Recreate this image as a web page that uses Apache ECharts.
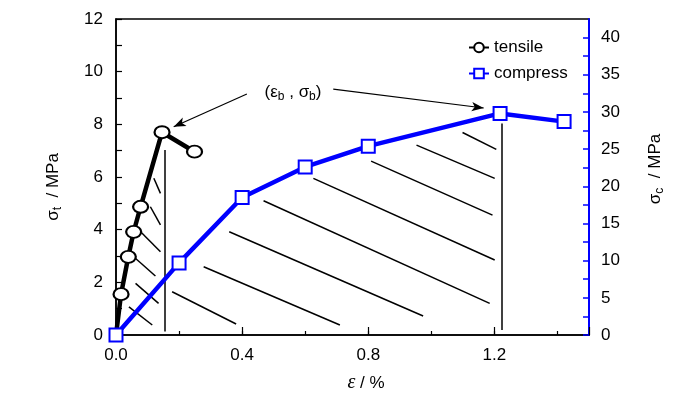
<!DOCTYPE html>
<html>
<head>
<meta charset="utf-8">
<script src="https://cdn.jsdelivr.net/npm/echarts@6/dist/echarts.min.js"></script>
<style>
  html, body { margin: 0; padding: 0; background: #fff; }
  #main { width: 700px; height: 398px; }
</style>
</head>
<body>
<div id="main"></div>
<script>
// 拉伸 / 压缩 应力-应变曲线
const FONT = '"Liberation Sans", Arial, sans-serif';

// tensile (left axis, MPa)
const strainT = [0, 0.016, 0.039, 0.056, 0.078, 0.146, 0.249];
const stressT = [0, 1.55, 2.97, 3.92, 4.87, 7.70, 6.96];
// compress (right axis, MPa)
const strainC = [0, 0.2, 0.4, 0.6, 0.8, 1.218, 1.421];
const stressC = [0, 9.7, 18.5, 22.6, 25.4, 29.8, 28.7];

// hatch segments under tensile curve [x1, y1, x2, y2] (left axis units)
const hatchT = [
    [0.120, 5.95, 0.141, 5.38],
    [0.109, 4.87, 0.141, 4.18],
    [0.078, 3.92, 0.141, 3.16],
    [0.056, 2.97, 0.125, 2.24],
    [0.062, 1.96, 0.135, 1.20],
    [0.041, 1.07, 0.115, 0.38],
    [0.154, 0.13, 0.154, 7.03]   // vertical drop at tensile peak
];
// hatch segments under compress curve (right axis units)
const hatchC = [
    [0.178, 5.82, 0.381, 1.48],
    [0.278, 9.18, 0.710, 1.34],
    [0.359, 13.88, 0.974, 2.55],
    [0.468, 18.05, 1.185, 4.26],
    [0.626, 21.06, 1.201, 10.08],
    [0.809, 23.39, 1.194, 16.13],
    [0.953, 25.54, 1.201, 21.06],
    [1.099, 27.24, 1.206, 24.96],
    [1.222, 0.67, 1.222, 28.45]  // vertical drop at compress peak
];
// annotation arrows [fromX, fromY, toX, toY] (left axis units)
const arrows = [
    [0.415, 9.15, 0.183, 7.91],
    [0.689, 9.34, 1.166, 8.62]
];

const xTicks = ['0.0', '0.4', '0.8', '1.2'];

const chart = echarts.init(document.getElementById('main'));

function segs(list) {
    return list.map(s => ({ coords: [[s[0], s[1]], [s[2], s[3]]] }));
}

const tData = strainT.map((x, i) => i === 0 ? { value: [x, stressT[i]], symbol: 'none' } : [x, stressT[i]]);
const cData = strainC.map((x, i) => [x, stressC[i]]);

const labelStyle = { color: '#000', fontSize: 17, fontFamily: FONT };
const nameRich = {
    n: { fontSize: 17, fontFamily: FONT, lineHeight: 22, fill: '#000' },
    s: { fontSize: 12, fontFamily: FONT, lineHeight: 12, verticalAlign: 'bottom', fill: '#000' }
};

chart.setOption({
    animation: false,
    backgroundColor: '#fff',
    grid: { left: 116, right: 111, top: 19, bottom: 63, show: true, borderColor: '#000', borderWidth: 1.5 },
    legend: {
        data: ['tensile', 'compress'],
        orient: 'vertical',
        left: 463, top: 34,
        itemWidth: 20, itemHeight: 12, itemGap: 9,
        textStyle: { color: '#000', fontSize: 17, fontFamily: FONT }
    },
    xAxis: [{
        type: 'value', min: 0, max: 1.5, interval: 0.2,
        axisLine: { onZero: false, lineStyle: { color: '#000', width: 1.5 } },
        axisTick: { inside: true, length: 4, lineStyle: { color: '#000', width: 1.2 } },
        splitLine: { show: false },
        axisLabel: Object.assign({
            margin: 12, showMaxLabel: false,
            formatter: v => {
                const s = v.toFixed(1);
                return xTicks.indexOf(s) >= 0 ? s : '';
            }
        }, labelStyle)
    }, {
        type: 'value', min: 0, max: 1.5, interval: 0.4, position: 'bottom',
        axisLine: { show: false, onZero: false },
        axisTick: { inside: true, length: 8, lineStyle: { color: '#000', width: 1.2 } },
        axisLabel: { show: false },
        splitLine: { show: false }
    }],
    yAxis: [{
        type: 'value', min: 0, max: 12, interval: 1, position: 'left',
        axisLine: { show: true, onZero: false, lineStyle: { color: '#000', width: 1.5 } },
        axisTick: { inside: true, length: 6, lineStyle: { color: '#000', width: 1.2 } },
        splitLine: { show: false },
        axisLabel: Object.assign({ margin: 13, formatter: v => (v % 2 === 0 ? String(v) : '') }, labelStyle)
    }, {
        type: 'value', min: 0, max: 42.5, interval: 2.5, position: 'right',
        axisLine: { show: true, onZero: false, lineStyle: { color: '#0000ff', width: 2 } },
        axisTick: { inside: true, length: 6, lineStyle: { color: '#0000ff', width: 1.5 } },
        splitLine: { show: false },
        axisLabel: Object.assign({ margin: 12, showMaxLabel: false, formatter: v => (v % 5 === 0 ? String(v) : '') }, labelStyle)
    }],
    graphic: [
        { type: 'text', x: 293, y: 92, style: {
            text: '{n|(ε}{s|b}{n| , σ}{s|b}{n|)}', align: 'center', verticalAlign: 'middle', rich: nameRich } },
        { type: 'text', x: 366, y: 383, style: {
            text: '{i|ε}{n| / %}', align: 'center', verticalAlign: 'middle',
            rich: { i: { fontSize: 20, fontFamily: '"Liberation Serif", serif', fontStyle: 'italic', fill: '#000' },
                    n: { fontSize: 17, fontFamily: FONT, fill: '#000' } } } },
        { type: 'text', x: 53, y: 187, rotation: Math.PI / 2, style: {
            text: '{n|σ}{s|t}{n|  / MPa}', align: 'center', verticalAlign: 'middle', rich: nameRich } },
        { type: 'text', x: 655, y: 169, rotation: Math.PI / 2, style: {
            text: '{n|σ}{s|c}{n|  / MPa}', align: 'center', verticalAlign: 'middle', rich: nameRich } }
    ],
    series: [
        {
            name: 'hatchT', type: 'lines', coordinateSystem: 'cartesian2d',
            xAxisIndex: 0, yAxisIndex: 0, silent: true, z: 1,
            lineStyle: { color: '#000', width: 1.5, opacity: 1 },
            data: segs(hatchT)
        },
        {
            name: 'hatchC', type: 'lines', coordinateSystem: 'cartesian2d',
            xAxisIndex: 0, yAxisIndex: 1, silent: true, z: 1,
            lineStyle: { color: '#000', width: 1.5, opacity: 1 },
            data: segs(hatchC)
        },
        {
            name: 'tensile', type: 'line', xAxisIndex: 0, yAxisIndex: 0, z: 3,
            data: tData,
            symbol: 'emptyCircle', symbolSize: [15, 12],
            lineStyle: { color: '#000', width: 4.5 },
            itemStyle: { color: '#000', borderWidth: 2 },
            markLine: {
                silent: true, symbol: ['none', 'arrow'], symbolSize: [7, 12],
                label: { show: false },
                lineStyle: { color: '#000', width: 1.2, type: 'solid' },
                data: arrows.map(a => [{ coord: [a[0], a[1]] }, { coord: [a[2], a[3]] }])
            }
        },
        {
            name: 'compress', type: 'line', xAxisIndex: 0, yAxisIndex: 1, z: 4,
            data: cData,
            symbol: 'emptyRect', symbolSize: 13,
            lineStyle: { color: '#0000ff', width: 4.5 },
            itemStyle: { color: '#0000ff', borderWidth: 2 }
        }
    ]
});
</script>
</body>
</html>
